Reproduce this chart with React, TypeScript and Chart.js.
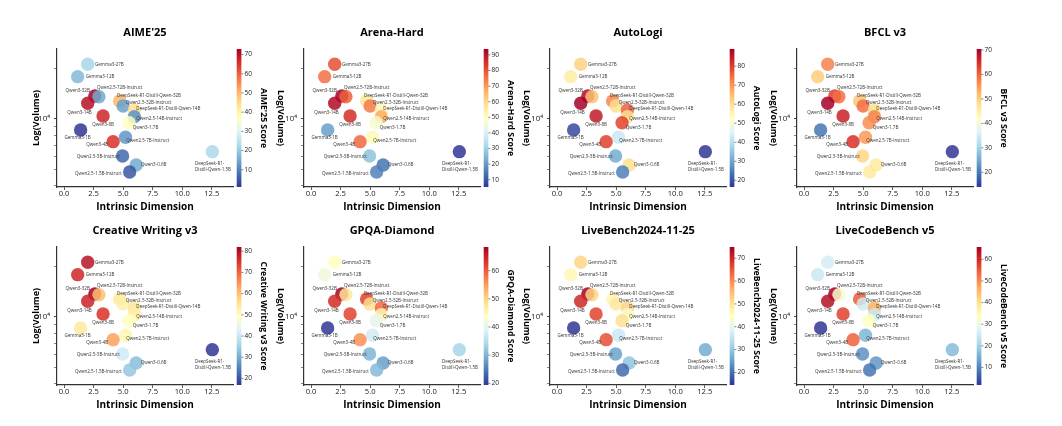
import React, { useEffect, useRef } from 'react';
import { Chart, registerables } from 'chart.js';
Chart.register(...registerables);

const FAMILY = "'Open Sans', 'DejaVu Sans', sans-serif";

// ---------- data ----------
const models = [
  'Gemma3-27B', 'Gemma3-12B', 'Qwen3-32B', 'Qwen2.5-72B-Instruct', 'Qwen3-14B',
  'DeepSeek-R1-Distill-Qwen-32B', 'Qwen2.5-32B-Instruct', 'DeepSeek-R1-Distill-Qwen-14B',
  'Qwen3-8B', 'Qwen2.5-14B-Instruct', 'Qwen3-1.7B', 'Gemma3-1B', 'Qwen2.5-7B-Instruct',
  'Qwen3-4B', 'DeepSeek-R1-Distill-Qwen-1.5B', 'Qwen2.5-3B-Instruct', 'Qwen3-0.6B',
  'Qwen2.5-1.5B-Instruct',
];
const intrinsicDim = [2.0, 1.15, 2.6, 2.95, 2.0, 4.7, 5.0, 5.95, 3.3, 5.95, 5.5, 1.4, 5.2, 4.15, 12.55, 4.95, 6.1, 5.55];
const volume = [21170, 17860, 13707, 13575, 12400, 12795, 11950, 11315, 10420, 10320, 9506, 8601, 7782, 7327, 6389, 6024, 5323, 4836];

const aime25 = [22, 17.5, 72.9, 15, 70.4, 50, 14, 44, 67.3, 11.8, 36.8, 1.0, 12.5, 65.6, 22.6, 6.7, 15.1, 4.6];
const arenaHard = [80.5, 76, 93.8, 78, 91.7, 56.6, 74.3, 52, 85.8, 67.3, 47, 21, 51.3, 77, 5.3, 27.4, 14.2, 16];
const autoLogi = [62, 57, 87.3, 64.4, 89, 71.6, 60, 76, 85, 60, 79.6, 18.7, 42.6, 80, 16.5, 31, 60, 25.2];
const bfclV3 = [57.4, 50, 63.6, 59, 70.4, 50.7, 59, 47.8, 66.5, 57.4, 56.3, 19.6, 55.2, 64.8, 14, 49, 45.6, 46];
const creativeWriting = [79.4, 76.8, 82, 60, 77.4, 54, 52.7, 54.7, 75.5, 52.7, 49.5, 54, 51.4, 63.8, 16.9, 41, 32.5, 33.8];
const gpqaDiamond = [43.9, 41.4, 68.4, 47.8, 64, 62.1, 48.8, 59.1, 62, 45.4, 40.1, 19.4, 37.5, 55.9, 33.8, 30.2, 27.9, 30.7];
const liveBench = [52, 46, 74.9, 52, 70, 46.5, 49, 52.6, 67, 43.5, 50.7, 14.5, 36.2, 65.8, 26.6, 25.4, 29.6, 19.3];
const liveCodeBench = [26, 24.9, 65.7, 32.5, 63.5, 54.9, 25.5, 46.6, 57.5, 24.9, 33.8, 1.9, 15.9, 54.2, 16.9, 11.5, 12.3, 8.3];

const panelTitles = ["AIME'25", 'Arena-Hard', 'AutoLogi', 'BFCL v3', 'Creative Writing v3', 'GPQA-Diamond', 'LiveBench2024-11-25', 'LiveCodeBench v5'];
const colorbarLabels = ["AIME'25 Score", 'Arena-Hard Score', 'AutoLogi Score', 'BFCL v3 Score', 'Creative Writing v3 Score', 'GPQA-Diamond Score', 'LiveBench2024-11-25 Score', 'LiveCodeBench v5 Score'];
const panelScores = [aime25, arenaHard, autoLogi, bfclV3, creativeWriting, gpqaDiamond, liveBench, liveCodeBench];

const xTicks = [0, 2.5, 5, 7.5, 10, 12.5];
const yTicks = [4000, 5000, 6000, 7000, 8000, 9000, 10000, 20000];
const xLimits = [-0.6, 14.3];
const yLimits = [3936, 26100];

// ---------- style ----------
const RDYLBU_R = [
  [49, 54, 149], [69, 117, 180], [116, 173, 209], [171, 217, 233], [224, 243, 248],
  [255, 255, 191], [254, 224, 144], [253, 174, 97], [244, 109, 67], [215, 48, 39], [165, 0, 38],
];
function cmap(t: number, alpha: number) {
  const tt = Math.max(0, Math.min(1, t)) * 10;
  const i = Math.min(9, Math.floor(tt));
  const f = tt - i;
  const a = RDYLBU_R[i], b = RDYLBU_R[i + 1];
  const c = a.map((v, k) => Math.round(v + (b[k] - v) * f));
  return `rgba(${c[0]},${c[1]},${c[2]},${alpha})`;
}

// label placement relative to point: [align, dx, dy]
const labelPlacement: [CanvasTextAlign, number, number][] = [
  ['left', 7.3, 0], ['left', 8, 0], ['right', -5, -5], ['left', -2, -8.5], ['right', 4, 9.7],
  ['left', -2.6, -5], ['left', 2.7, -3.3], ['left', 2, -1.7], ['center', 0, 9], ['left', 2, 2],
  ['left', 3.7, 5.3], ['center', -3, 7.3], ['left', 0.7, 3.7], ['right', -5, 3.3], ['left', -17.3, 11.7],
  ['right', -2.7, 0.7], ['left', 4.7, 0], ['right', -7.7, 1.3],
];
const pointLabelLines = models.map((m) =>
  m === 'DeepSeek-R1-Distill-Qwen-1.5B' ? ['DeepSeek-R1-', 'Distill-Qwen-1.5B'] : [m]
);

const W = 269;
const H = 215;
const AXIS_LEFT = 57;
const AXIS_BOTTOM = 187;

const overlayPlugin = {
  id: 'overlay',
  afterDatasetsDraw(chart: any) {
    const meta = chart.getDatasetMeta(0);
    const ctx = chart.ctx;
    ctx.save();
    ctx.font = `4.5px ${FAMILY}`;
    ctx.fillStyle = '#333';
    ctx.textBaseline = 'middle';
    meta.data.forEach((pt: any, i: number) => {
      const [align, dx, dy] = labelPlacement[i];
      ctx.textAlign = align;
      pointLabelLines[i].forEach((ln, j) => ctx.fillText(ln, pt.x + dx, pt.y + dy + j * 6));
    });
    ctx.restore();
  },
  afterDraw(chart: any, _args: any, opts: any) {
    const { ctx, chartArea } = chart;
    const s = chart.scales.c;
    const x0 = chartArea.right + 3.7;
    const w = 4.7;
    ctx.save();
    const g = ctx.createLinearGradient(0, s.bottom, 0, s.top);
    RDYLBU_R.forEach((c, i) => g.addColorStop(i / 10, `rgb(${c[0]},${c[1]},${c[2]})`));
    ctx.fillStyle = g;
    ctx.fillRect(x0, s.top, w, s.bottom - s.top);
    ctx.strokeStyle = '#333';
    ctx.lineWidth = 0.6;
    s.ticks.forEach((t: any) => {
      const y = s.getPixelForValue(t.value);
      ctx.beginPath();
      ctx.moveTo(x0 + w, y);
      ctx.lineTo(x0 + w + 2, y);
      ctx.stroke();
    });
    if (opts && opts.rotatedYTitle) {
      ctx.translate(chartArea.left - 23, (chartArea.top + chartArea.bottom) / 2);
      ctx.rotate(Math.PI / 2);
      ctx.font = `bold 9px ${FAMILY}`;
      ctx.fillStyle = '#000';
      ctx.textAlign = 'center';
      ctx.textBaseline = 'middle';
      ctx.fillText('Log(Volume)', 0, 0);
    }
    ctx.restore();
  },
};

function Panel({ index }: { index: number }) {
  const ref = useRef<HTMLCanvasElement>(null);
  const row = Math.floor(index / 4);
  const col = index % 4;
  useEffect(() => {
    const scores = panelScores[index];
    const vmin = Math.min(...scores);
    const vmax = Math.max(...scores);
    const colors = scores.map((s) => cmap((s - vmin) / (vmax - vmin), 0.85));
    const chart = new Chart(ref.current as HTMLCanvasElement, {
      type: 'scatter',
      data: {
        datasets: [
          {
            data: models.map((_, i) => ({ x: intrinsicDim[i], y: volume[i] })),
            backgroundColor: colors,
            borderWidth: 0,
            pointRadius: 6.7,
            pointHoverRadius: 6.7,
          },
        ],
      },
      options: {
        responsive: false,
        animation: false,
        events: [],
        layout: { padding: 0 },
        plugins: {
          legend: { display: false },
          tooltip: { enabled: false },
          title: {
            display: true,
            text: panelTitles[index],
            fullSize: false,
            color: '#000',
            font: { family: FAMILY, size: 11, weight: 'bold', lineHeight: 1.2 },
            padding: { top: 25.9, bottom: 49 - 25.9 - 13.2 },
          },
          overlay: { rotatedYTitle: col > 0 },
        } as any,
        scales: {
          x: {
            type: 'linear',
            min: xLimits[0],
            max: xLimits[1],
            afterBuildTicks: (s: any) => {
              s.ticks = xTicks.map((v) => ({ value: v }));
            },
            afterFit: (s: any) => {
              s.height = H - AXIS_BOTTOM;
            },
            ticks: {
              callback: (v: any) => Number(v).toFixed(1),
              color: '#222',
              font: { family: FAMILY, size: 7.6, lineHeight: 1 },
              padding: 0,
              maxRotation: 0,
              autoSkip: false,
            },
            grid: { drawOnChartArea: false, drawTicks: true, tickLength: 3, color: '#333', tickWidth: 0.8 },
            border: { display: true, color: '#333', width: 1.2 },
            title: {
              display: true,
              text: 'Intrinsic Dimension',
              color: '#000',
              font: { family: FAMILY, size: 10, weight: 'bold', lineHeight: 1.2 },
              padding: { top: 0, bottom: 1.8 },
            },
          },
          y: {
            type: 'logarithmic',
            position: 'left',
            min: yLimits[0],
            max: yLimits[1],
            afterBuildTicks: (s: any) => {
              s.ticks = yTicks.map((v) => ({ value: v, major: v === 10000 }));
            },
            afterFit: (s: any) => {
              s.width = AXIS_LEFT;
            },
            ticks: {
              callback: (v: any) => (Number(v) === 10000 ? '10⁴' : ''),
              color: '#222',
              font: { family: FAMILY, size: 8 },
              padding: 4,
              autoSkip: false,
            },
            grid: {
              drawOnChartArea: false,
              drawTicks: true,
              tickLength: 3,
              color: '#333',
              tickWidth: (c: any) => (c.tick && c.tick.value === 10000 ? 0.9 : 0.6),
            },
            border: { display: true, color: '#333', width: 1.2 },
            title: {
              display: col === 0,
              text: 'Log(Volume)',
              color: '#000',
              font: { family: FAMILY, size: 9, weight: 'bold', lineHeight: 1.2 },
              padding: { top: 31.3, bottom: 0 },
            },
          },
          c: {
            type: 'linear',
            position: 'right',
            min: vmin,
            max: vmax,
            afterBuildTicks: (s: any) => {
              const t: any[] = [];
              for (let v = Math.ceil(vmin / 10) * 10; v <= vmax; v += 10) t.push({ value: v });
              s.ticks = t;
            },
            afterFit: (s: any) => {
              s.width = W - 233;
            },
            ticks: {
              color: '#222',
              font: { family: FAMILY, size: 6.5 },
              padding: 11.5,
              autoSkip: false,
            },
            grid: { display: false, drawTicks: false },
            border: { display: false },
            title: {
              display: true,
              text: colorbarLabels[index],
              color: '#000',
              font: { family: FAMILY, size: 8.7, weight: 'bold', lineHeight: 1.2 },
              padding: { top: 0, bottom: 0 },
            },
          },
        } as any,
      },
      plugins: [overlayPlugin],
    });
    return () => chart.destroy();
  }, [index]);
  return (
    <canvas
      ref={ref}
      width={W}
      height={H}
      style={{ position: 'absolute', left: col * 246.5, top: row * 198, width: W, height: H, display: 'block' }}
    />
  );
}

export default function App() {
  return (
    <div style={{ position: 'absolute', left: 0, top: 0, width: 1062, height: 426, background: '#fff', overflow: 'hidden' }}>
      {panelTitles.map((_, i) => (
        <Panel key={i} index={i} />
      ))}
    </div>
  );
}
